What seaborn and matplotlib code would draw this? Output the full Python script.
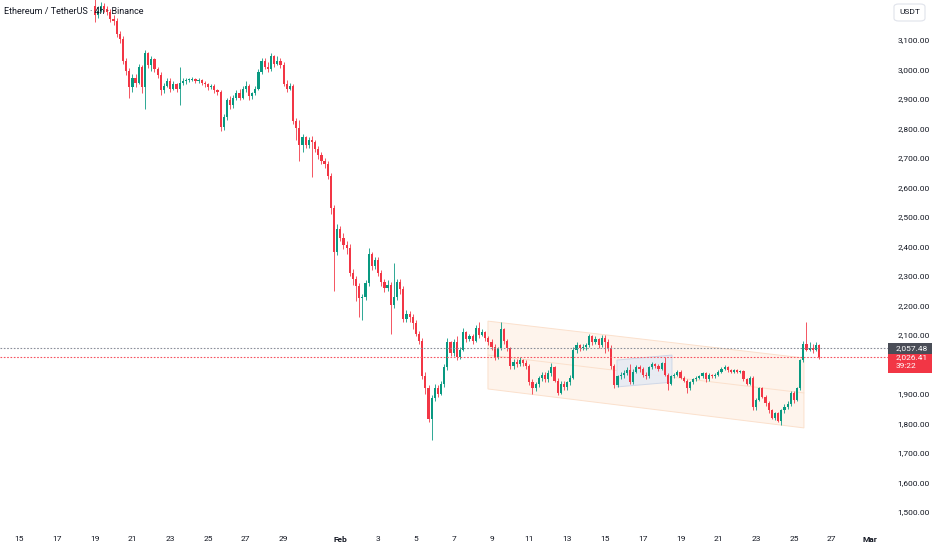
import matplotlib
matplotlib.use("Agg")
import matplotlib.pyplot as plt
import matplotlib.dates as mdates
from matplotlib.patches import Polygon, Rectangle, FancyBboxPatch
import numpy as np
import pandas as pd
import seaborn as sns

# ETH/USDT 4h, una candela ogni 4 ore dal 19 gennaio (00:00)
first_open = 3215
close = [
    3185, 3200, 3215, 3205, 3195, 3170,   # Jan 19
    3165, 3120, 3105, 3030, 2995, 2940,   # Jan 20
    2970, 2955, 3010, 2940, 3055, 3015,   # Jan 21
    3035, 3000, 2980, 2930, 2945, 2960,   # Jan 22
    2935, 2950, 2935, 2955, 2960, 2965,   # Jan 23
    2965, 2968, 2962, 2965, 2955, 2950,   # Jan 24
    2940, 2945, 2930, 2925, 2805, 2840,   # Jan 25
    2895, 2880, 2905, 2920, 2905, 2935,   # Jan 26
    2945, 2910, 2920, 2935, 2990, 3030,   # Jan 27
    3010, 3000, 3045, 3020, 3030, 3015,   # Jan 28
    2950, 2935, 2945, 2825, 2800, 2745,   # Jan 29
    2770, 2745, 2760, 2755, 2730, 2710,   # Jan 30
    2690, 2680, 2640, 2530, 2380, 2460,   # Jan 31
    2430, 2405, 2395, 2310, 2290, 2265,   # Feb 1
    2225, 2230, 2275, 2375, 2335, 2355,   # Feb 2
    2310, 2280, 2260, 2270, 2200, 2230,   # Feb 3
    2280, 2255, 2155, 2170, 2160, 2140,   # Feb 4
    2105, 2080, 1960, 1920, 1815, 1885,   # Feb 5
    1920, 1900, 1935, 1990, 2075, 2040,   # Feb 6
    2075, 2025, 2050, 2110, 2085, 2095,   # Feb 7
    2080, 2125, 2100, 2110, 2090, 2075,   # Feb 8
    2060, 2025, 2055, 2120, 2080, 2055,   # Feb 9
    1995, 2010, 2000, 2015, 2005, 1995,   # Feb 10
    1940, 1920, 1935, 1955, 1965, 1950,   # Feb 11
    1970, 1990, 1945, 1905, 1935, 1925,   # Feb 12
    1940, 1955, 2050, 2065, 2055, 2060,   # Feb 13
    2065, 2095, 2075, 2085, 2065, 2090,   # Feb 14
    2075, 2055, 1995, 1930, 1960, 1965,   # Feb 15
    1970, 1980, 1940, 1975, 1990, 1985,   # Feb 16
    1965, 1960, 1990, 2000, 1995, 1985,   # Feb 17
    2005, 1965, 1935, 1960, 1965, 1975,   # Feb 18
    1955, 1945, 1920, 1940, 1950, 1955,   # Feb 19
    1960, 1970, 1950, 1965, 1960, 1965,   # Feb 20
    1975, 1985, 1990, 1980, 1975, 1980,   # Feb 21
    1975, 1978, 1950, 1935, 1955, 1855,   # Feb 22
    1880, 1920, 1890, 1870, 1845, 1820,   # Feb 23
    1835, 1810, 1845, 1855, 1865, 1905,   # Feb 24
    1880, 1920, 2015, 2070, 2050, 2055,   # Feb 25
    2050, 2065, 2026.41,                  # Feb 26
]
high = [
    3240, 3215, 3230, 3225, 3215, 3205,
    3185, 3175, 3130, 3115, 3040, 3005,
    2985, 2985, 3020, 3015, 3065, 3060,
    3045, 3040, 3010, 2990, 2955, 2970,
    2970, 2960, 2955, 3010, 2970, 2972,
    2972, 2975, 2972, 2970, 2968, 2960,
    2955, 2952, 2950, 2935, 2930, 2850,
    2905, 2910, 2915, 2930, 2935, 2945,
    2960, 2950, 2925, 2945, 3000, 3040,
    3040, 3025, 3055, 3050, 3045, 3040,
    3025, 2965, 2955, 2950, 2835, 2830,
    2780, 2775, 2770, 2775, 2760, 2740,
    2720, 2700, 2690, 2650, 2540, 2475,
    2470, 2445, 2420, 2410, 2325, 2300,
    2275, 2240, 2285, 2395, 2380, 2365,
    2365, 2320, 2290, 2285, 2280, 2345,
    2290, 2290, 2265, 2185, 2180, 2170,
    2150, 2115, 2090, 1975, 1930, 1895,
    1935, 1930, 1945, 2000, 2090, 2080,
    2085, 2095, 2060, 2125, 2115, 2105,
    2105, 2135, 2145, 2120, 2115, 2095,
    2085, 2070, 2060, 2145, 2125, 2085,
    2060, 2020, 2020, 2025, 2020, 2015,
    2000, 1950, 1940, 1960, 1975, 1975,
    1980, 2005, 1995, 1955, 1945, 1945,
    1945, 1965, 2060, 2075, 2070, 2068,
    2072, 2105, 2100, 2095, 2090, 2100,
    2100, 2085, 2065, 2000, 1965, 1975,
    1980, 1990, 2000, 1985, 1998, 1998,
    1990, 1975, 1995, 2008, 2005, 2000,
    2010, 2025, 1970, 1965, 1972, 1980,
    1980, 1960, 1950, 1945, 1955, 1960,
    1965, 1975, 1975, 1970, 1968, 1972,
    1980, 1990, 1998, 1995, 1985, 1985,
    1985, 1982, 1982, 1955, 1960, 1960,
    1885, 1925, 1925, 1895, 1875, 1850,
    1840, 1840, 1850, 1865, 1875, 1910,
    1910, 1925, 2020, 2080, 2145, 2075,
    2070, 2075, 2070,
]
low = [
    3160, 3175, 3195, 3195, 3185, 3160,
    3150, 3110, 3090, 3020, 2980, 2905,
    2925, 2940, 2950, 2920, 2865, 3005,
    2995, 2990, 2970, 2915, 2920, 2940,
    2925, 2930, 2925, 2880, 2948, 2952,
    2958, 2960, 2955, 2955, 2948, 2942,
    2930, 2935, 2922, 2915, 2790, 2795,
    2830, 2865, 2870, 2895, 2895, 2900,
    2925, 2895, 2900, 2915, 2930, 2985,
    3000, 2990, 2995, 3010, 3015, 3005,
    2945, 2925, 2930, 2815, 2760, 2690,
    2720, 2735, 2735, 2635, 2720, 2695,
    2680, 2665, 2630, 2510, 2250, 2370,
    2420, 2390, 2375, 2300, 2270, 2215,
    2160, 2150, 2220, 2265, 2320, 2325,
    2300, 2265, 2245, 2250, 2105, 2190,
    2220, 2240, 2145, 2145, 2145, 2120,
    2095, 2070, 1950, 1900, 1805, 1745,
    1875, 1890, 1895, 1925, 1980, 2030,
    2030, 2015, 2020, 2045, 2075, 2080,
    2070, 2075, 2090, 2095, 2080, 2065,
    2050, 2015, 2020, 2050, 2070, 2045,
    1985, 1985, 1990, 1995, 1995, 1985,
    1930, 1900, 1910, 1925, 1945, 1940,
    1940, 1960, 1940, 1895, 1900, 1915,
    1915, 1930, 1950, 2040, 2045, 2048,
    2050, 2060, 2065, 2068, 2055, 2060,
    2040, 2045, 1985, 1920, 1925, 1950,
    1955, 1965, 1935, 1935, 1970, 1975,
    1958, 1950, 1955, 1985, 1988, 1978,
    1980, 1960, 1915, 1930, 1955, 1960,
    1950, 1940, 1905, 1915, 1935, 1945,
    1950, 1955, 1940, 1945, 1955, 1955,
    1960, 1970, 1980, 1975, 1970, 1970,
    1970, 1970, 1945, 1930, 1930, 1845,
    1845, 1875, 1885, 1860, 1835, 1815,
    1812, 1805, 1795, 1835, 1850, 1860,
    1870, 1875, 1915, 2010, 2045, 2045,
    2040, 2045, 2020,
]

prev_close = 2057.48
last_price = 2026.41
countdown = "39:22"

# canale discendente (disegno) e piccolo rettangolo
channel_times = ["2026-02-08 19:30", "2026-02-25 12:45"]
channel_top = [2147, 2022]
channel_bottom = [1917, 1785]
box_times = ["2026-02-15 15:20", "2026-02-18 13:10"]
box_top = [2015, 2032]
box_bottom = [1924, 1940]

price_ticks = [1500, 1600, 1700, 1800, 1900, 2100, 2200, 2300, 2400,
               2500, 2600, 2700, 2800, 2900, 3000, 3100]
tick_dates = ["2026-01-15", "2026-01-17", "2026-01-19", "2026-01-21", "2026-01-23",
              "2026-01-25", "2026-01-27", "2026-01-29", "2026-02-01", "2026-02-03",
              "2026-02-05", "2026-02-07", "2026-02-09", "2026-02-11", "2026-02-13",
              "2026-02-15", "2026-02-17", "2026-02-19", "2026-02-21", "2026-02-23",
              "2026-02-25", "2026-02-27", "2026-03-01"]
tick_labels = ["15", "17", "19", "21", "23", "25", "27", "29", "Feb", "3", "5", "7",
               "9", "11", "13", "15", "17", "19", "21", "23", "25", "27", "Mar"]

# dataframe delle candele
df = pd.DataFrame({"close": close, "high": high, "low": low})
df["open"] = [first_open] + close[:-1]
df["time"] = pd.date_range("2026-01-19 00:00", periods=len(df), freq="4h")
df["x"] = mdates.date2num(df["time"].dt.to_pydatetime())

GREEN = "#089981"
RED = "#f23645"
TEXT = "#131722"

sns.set_theme(style="white")
plt.rcParams["font.family"] = ["Roboto", "DejaVu Sans"]

fig = plt.figure(figsize=(9.32, 5.5), dpi=100)
ax = fig.add_axes([0, 22 / 550, 888 / 932, 528 / 550])

# canale
cx = mdates.date2num(pd.to_datetime(channel_times).to_pydatetime())
poly = Polygon([(cx[0], channel_top[0]), (cx[1], channel_top[1]),
                (cx[1], channel_bottom[1]), (cx[0], channel_bottom[0])],
               closed=True, facecolor="#fef4ec", edgecolor="#fbe0cc", lw=0.7, zorder=1)
ax.add_patch(poly)
ax.plot(cx, [(channel_top[0] + channel_bottom[0]) / 2, (channel_top[1] + channel_bottom[1]) / 2],
        color="#fbe0cc", lw=0.7, zorder=1)

bx = mdates.date2num(pd.to_datetime(box_times).to_pydatetime())
box = Polygon([(bx[0], box_top[0]), (bx[1], box_top[1]),
               (bx[1], box_bottom[1]), (bx[0], box_bottom[0])],
              closed=True, facecolor="#e6ebf3", edgecolor="#ccd5e6", lw=0.7, alpha=0.9, zorder=2)
ax.add_patch(box)

# candele
up = df["close"] >= df["open"]
colors = np.where(up, GREEN, RED)
body_low = df[["open", "close"]].min(axis=1)
body_h = (df["close"] - df["open"]).abs().clip(lower=2)
ax.vlines(df["x"], df["low"], df["high"], colors=colors, lw=0.7, alpha=0.85, zorder=3)
ax.bar(df["x"], body_h, bottom=body_low, width=0.115, color=colors, linewidth=0, zorder=4)

# linee di prezzo
ax.axhline(prev_close, color="#8a8e99", ls=(0, (1.5, 1.5)), lw=0.8, zorder=5)
ax.axhline(last_price, color="#f7525f", ls=(0, (1.5, 1.5)), lw=0.8, zorder=5)

ax.set_xlim(mdates.date2num(pd.Timestamp("2026-01-13 23:50")),
            mdates.date2num(pd.Timestamp("2026-03-01 23:30")))
ax.set_ylim(1445.7, 3235.6)

ax.set_xticks(mdates.date2num(pd.to_datetime(tick_dates).to_pydatetime()))
ax.set_xticklabels(tick_labels)
for lab in ax.get_xticklabels():
    if lab.get_text() in ("Feb", "Mar"):
        lab.set_fontweight("semibold")
ax.yaxis.tick_right()
ax.set_yticks(price_ticks)
ax.set_yticklabels([f"{p:,.2f}" for p in price_ticks])
ax.tick_params(axis="x", length=0, pad=6, labelsize=6, labelcolor=TEXT)
ax.tick_params(axis="y", length=0, pad=7, labelsize=6, labelcolor=TEXT)
for s in ax.spines.values():
    s.set_visible(False)
ax.grid(False)

# etichette di prezzo sull'asse destro
ytr = ax.get_yaxis_transform()
ax.add_patch(Rectangle((1.0, 2035), 0.05, 37, transform=ytr, facecolor="#4a4d57",
                       edgecolor="none", clip_on=False, zorder=6))
ax.add_patch(Rectangle((1.0, 1971), 0.05, 64, transform=ytr, facecolor=RED,
                       edgecolor="none", clip_on=False, zorder=6))
ax.text(1.0 + 8 / 888, 2054, f"{prev_close:,.2f}", transform=ytr, color="white",
        fontsize=6, va="center", ha="left", zorder=7)
ax.text(1.0 + 8 / 888, 2024, f"{last_price:,.2f}", transform=ytr, color="white",
        fontsize=6, va="center", ha="left", zorder=7)
ax.text(1.0 + 8 / 888, 1996, countdown, transform=ytr, color="white",
        fontsize=6, va="center", ha="left", zorder=7)

# intestazione e valuta
fig.text(4 / 932, 1 - 11 / 550, "Ethereum / TetherUS · 4h · Binance", fontsize=6.5,
         color=TEXT, va="center", ha="left", zorder=10)
fig.patches.append(FancyBboxPatch((894 / 932, 1 - 21 / 550), 31 / 932, 17 / 550,
                                  boxstyle="round,pad=0,rounding_size=0.005",
                                  transform=fig.transFigure, facecolor="white",
                                  edgecolor="#e0e3eb", lw=0.8))
fig.text(909.5 / 932, 1 - 12.5 / 550, "USDT", fontsize=6, color=TEXT,
         va="center", ha="center")

fig.savefig("out.png", dpi=100, facecolor="white")
